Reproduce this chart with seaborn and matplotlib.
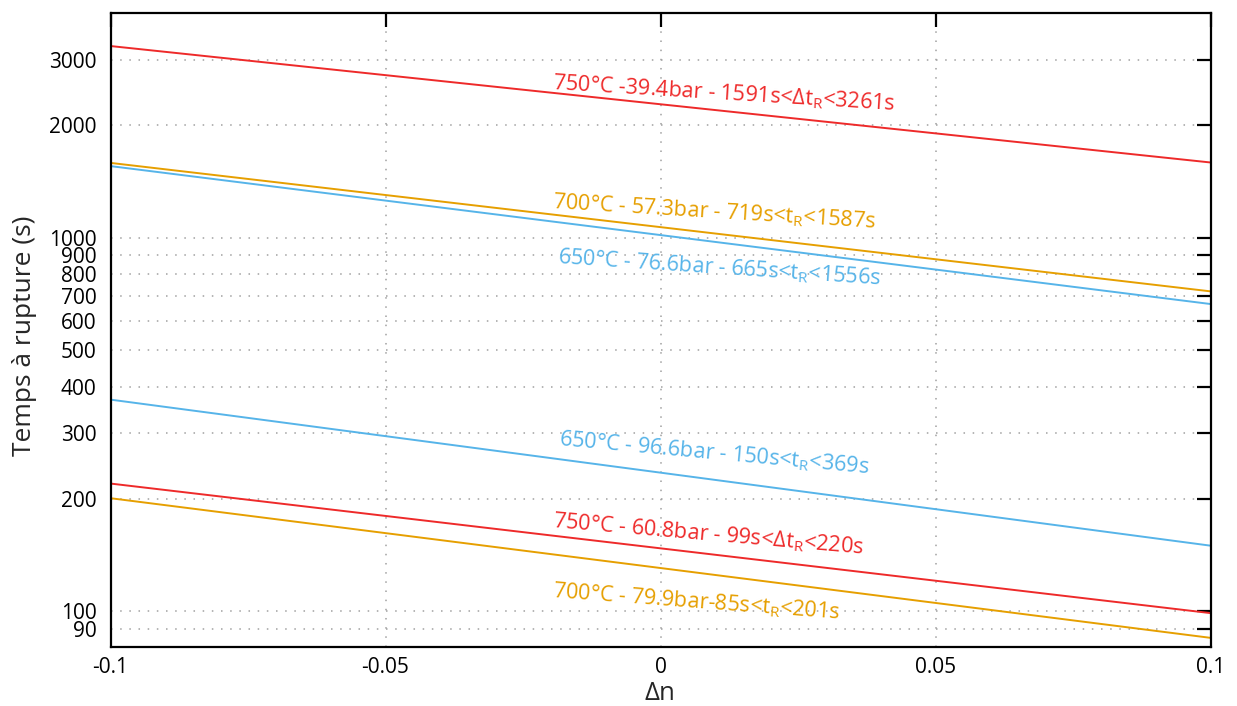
import numpy as np
import pandas as pd
import matplotlib
matplotlib.use("Agg")
import matplotlib.pyplot as plt
import seaborn as sns

# ---- data ----
x_range = [-0.1, 0.1]
series_names = [
    "750°C -39.4bar - 1591s<Δt$_\\mathregular{R}$<3261s",
    "700°C - 57.3bar - 719s<t$_\\mathregular{R}$<1587s",
    "650°C - 76.6bar - 665s<t$_\\mathregular{R}$<1556s",
    "650°C - 96.6bar - 150s<t$_\\mathregular{R}$<369s",
    "750°C - 60.8bar - 99s<Δt$_\\mathregular{R}$<220s",
    "700°C - 79.9bar-85s<t$_\\mathregular{R}$<201s",
]
t_at_start = [3261, 1587, 1556, 369, 220, 201]
t_at_end = [1591, 719, 665, 150, 99, 85]
y_ticks = [90, 100, 200, 300, 400, 500, 600, 700, 800, 900, 1000, 2000, 3000]
x_ticks = [-0.1, -0.05, 0, 0.05, 0.1]
x_tick_labels = ["-0.1", "-0.05", "0", "0.05", "0.1"]
x_title = "Δn"
y_title = "Temps à rupture (s)"

# ---- styles / positions ----
RED, ORANGE, BLUE = "#ee2a2a", "#e69f00", "#56b4e9"
colors = [RED, ORANGE, BLUE, BLUE, RED, ORANGE]
label_pos = [(-0.0197, 2498), (-0.0197, 1200), (-0.0188, 856),
             (-0.0186, 279), (-0.0197, 168), (-0.0197, 109)]
label_rot = [-3.5, -3.5, -3.8, -5.2, -4.9, -4.3]

rows = []
for name, a, b in zip(series_names, t_at_start, t_at_end):
    rows.append({"x": x_range[0], "t": a, "serie": name})
    rows.append({"x": x_range[1], "t": b, "serie": name})
df = pd.DataFrame(rows)

sns.set_style("white")
plt.rcParams["font.family"] = ["Open Sans", "DejaVu Sans"]
plt.rcParams["mathtext.fontset"] = "custom"
plt.rcParams["mathtext.rm"] = "Open Sans"
plt.rcParams["mathtext.it"] = "Open Sans:italic"
plt.rcParams["mathtext.bf"] = "Open Sans:bold"

W, H = 1237, 706
fig = plt.figure(figsize=(W / 100, H / 100), dpi=100)
ax = fig.add_axes([110.5 / W, 1 - 647.3 / H,
                   (1210.7 - 110.5) / W, (647.3 - 13.3) / H])

sns.lineplot(data=df, x="x", y="t", hue="serie", hue_order=series_names,
             palette=colors, linewidth=1.4, legend=False, ax=ax)

ax.set_yscale("log")
ax.set_xlim(-0.1, 0.1)
ax.set_ylim(80.2, 3990)
ax.set_yticks(y_ticks)
ax.set_yticklabels([str(v) for v in y_ticks])
ax.yaxis.set_minor_locator(matplotlib.ticker.NullLocator())
ax.set_xticks(x_ticks)
ax.set_xticklabels(x_tick_labels)

ax.grid(True, which="major", color="#a0a0a0", linestyle=(0, (1, 5)), linewidth=1.1)
for s in ax.spines.values():
    s.set_visible(True)
    s.set_color("black")
    s.set_linewidth(1.6)
ax.tick_params(axis="both", which="major", direction="in", length=10, width=1.6,
               top=True, right=True, labelsize=15, colors="black")
ax.tick_params(axis="y", pad=10)
ax.tick_params(axis="x", pad=7)

ax.set_xlabel("")
ax.set_ylabel("")
fig.text(660 / W, 1 - 694 / H, x_title, fontsize=18.5, ha="center", va="center")
fig.text(25 / W, 1 - 336 / H, y_title, fontsize=19, rotation=90,
         ha="center", va="center")

for name, c, (px, py), r in zip(series_names, colors, label_pos, label_rot):
    ax.text(px, py, name, color=c, fontsize=15.6, rotation=r,
            rotation_mode="anchor", ha="left", va="baseline")

fig.savefig("out.png", dpi=100)
